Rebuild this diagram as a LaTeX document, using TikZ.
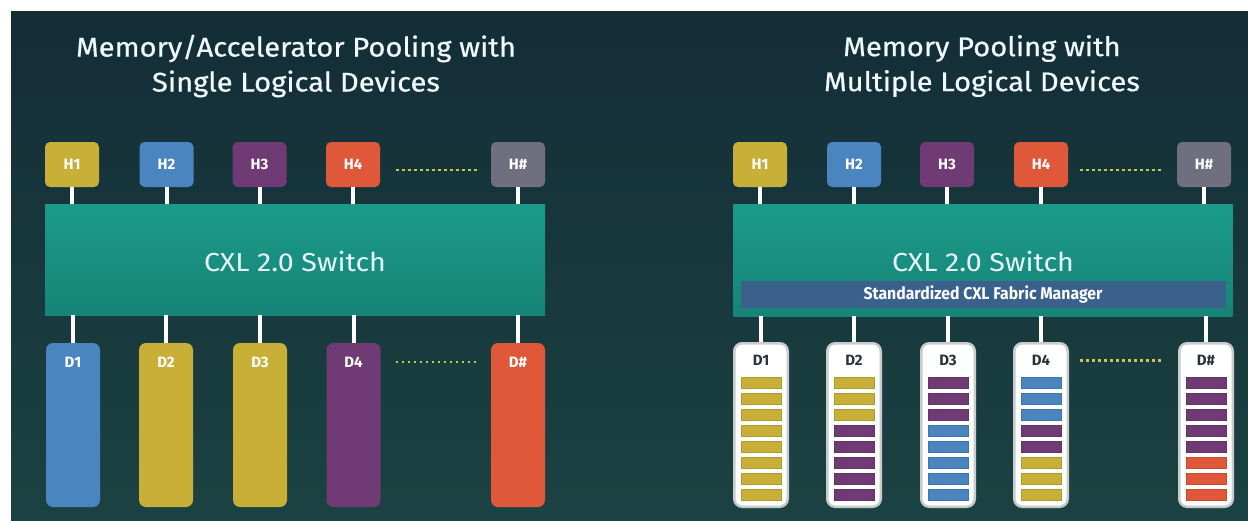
\documentclass[tikz,border=0pt]{standalone}
\usepackage{fontspec}
\setmainfont{Fira Sans}
\newfontfamily\titlefont{Fira Sans}[FakeStretch=1.08,FakeBold=0.6]
\newfontfamily\widefont{Fira Sans}[FakeStretch=1.1]
\newfontfamily\narrowfont{Fira Sans}[FakeStretch=0.93]
\usetikzlibrary{positioning}
\definecolor{bgtop}{RGB}{20,45,55}
\definecolor{bgbot}{RGB}{27,66,66}
\definecolor{cY}{RGB}{200,176,56}
\definecolor{cB}{RGB}{74,133,192}
\definecolor{cP}{RGB}{112,58,116}
\definecolor{cO}{RGB}{224,88,58}
\definecolor{cG}{RGB}{111,111,126}
\definecolor{swtop}{RGB}{27,155,139}
\definecolor{swbot}{RGB}{22,132,118}
\definecolor{fmblue}{RGB}{58,96,140}
\definecolor{dotc}{RGB}{196,200,84}
\definecolor{rim}{RGB}{200,204,204}
\definecolor{dtext}{RGB}{40,52,58}
\begin{document}
\begin{tikzpicture}[x=1pt,y=-1pt,
  host/.style={rounded corners=5pt,minimum width=54pt,minimum height=45pt,inner sep=0pt,text=white,font=\fontsize{15}{17}\selectfont\bfseries},
  dev/.style={rounded corners=7pt,minimum width=54pt,minimum height=164pt,inner sep=0pt},
  mld/.style={rounded corners=8pt,minimum width=53.5pt,minimum height=163.5pt,inner sep=0pt,fill=white,draw=rim,line width=2.5pt},
  dlabel/.style={inner sep=0pt,font=\fontsize{15}{17}\selectfont\bfseries},
  switch/.style={minimum width=500pt,minimum height=111pt,inner sep=0pt,top color=swtop,bottom color=swbot},
  swtext/.style={text=white!90!cyan,font=\widefont\fontsize{26}{30}\selectfont},
  title/.style={text=white!94!cyan,align=center,font=\titlefont\fontsize{27}{35}\selectfont},
  link/.style={white,line width=4pt},
  dots/.style={dotc,line width=2.5pt,dash pattern=on 2.5pt off 3.5pt},
  fabric/.style={fill=fmblue,minimum width=485pt,minimum height=27pt,inner sep=0pt,text=white,font=\narrowfont\fontsize{17}{20}\selectfont\bfseries}]
\useasboundingbox (0,0) rectangle (1248,520);
\fill[white] (0,0) rectangle (1248,520);
\shade[top color=bgtop,bottom color=bgbot] (11,11) rectangle (1248,520);

\node[title] (ta) at (296,66) {Memory/Accelerator Pooling with\\Single Logical Devices};
\node[title] (tb) at (982,66) {Memory Pooling with\\Multiple Logical Devices};

\node[switch] (swa) at (295,259.5) {};
\node[swtext] (swta) at ([yshift=-2pt]swa.center) {CXL 2.0 Switch};
\node[switch,minimum width=499pt,minimum height=112pt] (swb) at (983,260) {};
\node[fabric,above=8pt of swb.south] (fm) {Standardized CXL Fabric Manager};
\node[swtext] (swtb) at ([yshift=-2pt]swb.center) {CXL 2.0 Switch};

\foreach \i/\x/\c/\t in {1/72/cY/H1,2/166.5/cB/H2,3/259.5/cP/H3,4/353/cO/H4,5/518/cG/H\#}{
  \node[host,fill=\c] (ha\i) at (\x,164.5) {\t};
  \draw[link] (ha\i.south) -- (ha\i.south |- swa.north);
}
\foreach \i/\x/\c/\t in {1/760/cY/H1,2/854/cB/H2,3/947/cP/H3,4/1041/cO/H4,5/1204/cG/H\#}{
  \node[host,fill=\c] (hb\i) at (\x,164.5) {\t};
  \draw[link] (hb\i.south) -- (hb\i.south |- swb.north);
}

\foreach \i/\x/\c/\t in {1/73/cB/D1,2/166/cY/D2,3/260/cY/D3,4/353.5/cP/D4,5/518/cO/D\#}{
  \node[dev,fill=\c] (da\i) at (\x,425) {};
  \node[dlabel,text=white,below=14pt of da\i.north] (la\i) {\t};
  \draw[link] (da\i.north) -- (da\i.north |- swa.south);
}
\foreach \i/\x/\t in {1/761/D1,2/854/D2,3/948/D3,4/1041/D4,5/1206/D\#}{
  \node[mld] (db\i) at (\x,425) {};
  \node[dlabel,text=dtext,below=13pt of db\i.north] (lb\i) {\t};
  \draw[link] (db\i.north) -- (db\i.north |- swb.south);
}
\foreach \n/\cols in {1/{cY,cY,cY,cY,cY,cY,cY,cY},2/{cY,cY,cY,cP,cP,cP,cP,cP},3/{cP,cP,cP,cB,cB,cB,cB,cB},4/{cB,cB,cB,cP,cP,cY,cY,cY},5/{cP,cP,cP,cP,cP,cO,cO,cO}}
  \foreach \c [count=\k from 0] in \cols
    \fill[\c,draw=\c!88!black,line width=0.4pt] ([xshift=-20pt,yshift=-35.5pt-16*\k pt]db\n.north) rectangle ++(40,10.5);

\draw[dots,shorten <=16pt,shorten >=11pt] ([yshift=-5.5pt]ha4.east) -- ([yshift=-5.5pt]ha5.west);
\draw[dots,shorten <=12pt,shorten >=13pt] ([yshift=-5.5pt]hb4.east) -- ([yshift=-5.5pt]hb5.west);
\draw[dots,shorten <=15pt,shorten >=12pt] (da4.east |- la4) -- (da5.west |- la5);
\draw[dots,shorten <=11pt,shorten >=15pt] (db4.east |- lb4) -- (db5.west |- lb5);
\end{tikzpicture}
\end{document}
